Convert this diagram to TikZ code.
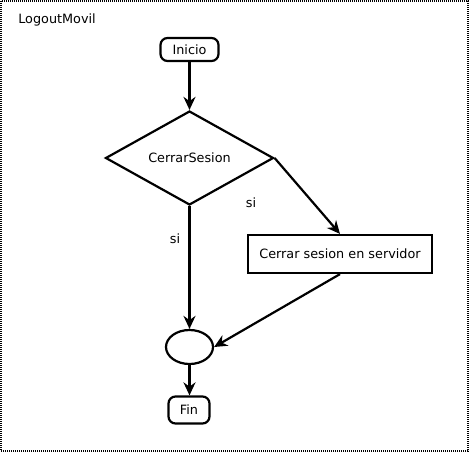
\documentclass[tikz,border=0pt]{standalone}
\usepackage{fontspec}
\setmainfont{DejaVu Sans}
\usetikzlibrary{shapes.geometric,arrows.meta}
\begin{document}
\begin{tikzpicture}[x=1pt,y=-1pt,
  every node/.style={font=\fontsize{12.8}{15}\selectfont},
  term/.style={draw,line width=2.2pt,rounded corners=7pt,inner sep=0pt},
  act/.style={draw,line width=2.2pt,inner sep=0pt},
  flow/.style={line width=2.2pt,-{Stealth[length=13pt,width=12pt]}},
  lbl/.style={inner sep=1pt}]
\useasboundingbox (0,0) rectangle (469,452);
\draw[line width=1.2pt,dash pattern=on 1pt off 1pt] (1,1) rectangle (468,451);
\node[lbl] (title) at (57,20) {LogoutMovil};
\node[term,minimum width=58pt,minimum height=23pt] (inicio) at (189.5,49.5) {Inicio};
\node[diamond,aspect=1.79,draw,line width=2.2pt,minimum width=168pt,minimum height=94pt,inner sep=0pt] (dec) at (189.5,158) {CerrarSesion};
\node[act,minimum width=184pt,minimum height=38pt] (srv) at (340,254) {Cerrar sesion en servidor};
\node[ellipse,draw,line width=2.2pt,minimum width=47pt,minimum height=34pt,inner sep=0pt] (join) at (189.5,347) {};
\node[term,minimum width=41pt,minimum height=27pt] (fin) at (189,410) {Fin};
\draw[flow] (inicio) -- (dec.north);
\draw[flow] (dec.east) -- (srv.north);
\draw[flow] (dec.south) -- (join.north);
\draw[flow] (srv.south) -- (join.east);
\draw[flow] (join.south) -- (join.south |- fin.north);
\node[lbl] (si1) at (251,203) {si};
\node[lbl] (si2) at (175,239) {si};
\end{tikzpicture}
\end{document}
